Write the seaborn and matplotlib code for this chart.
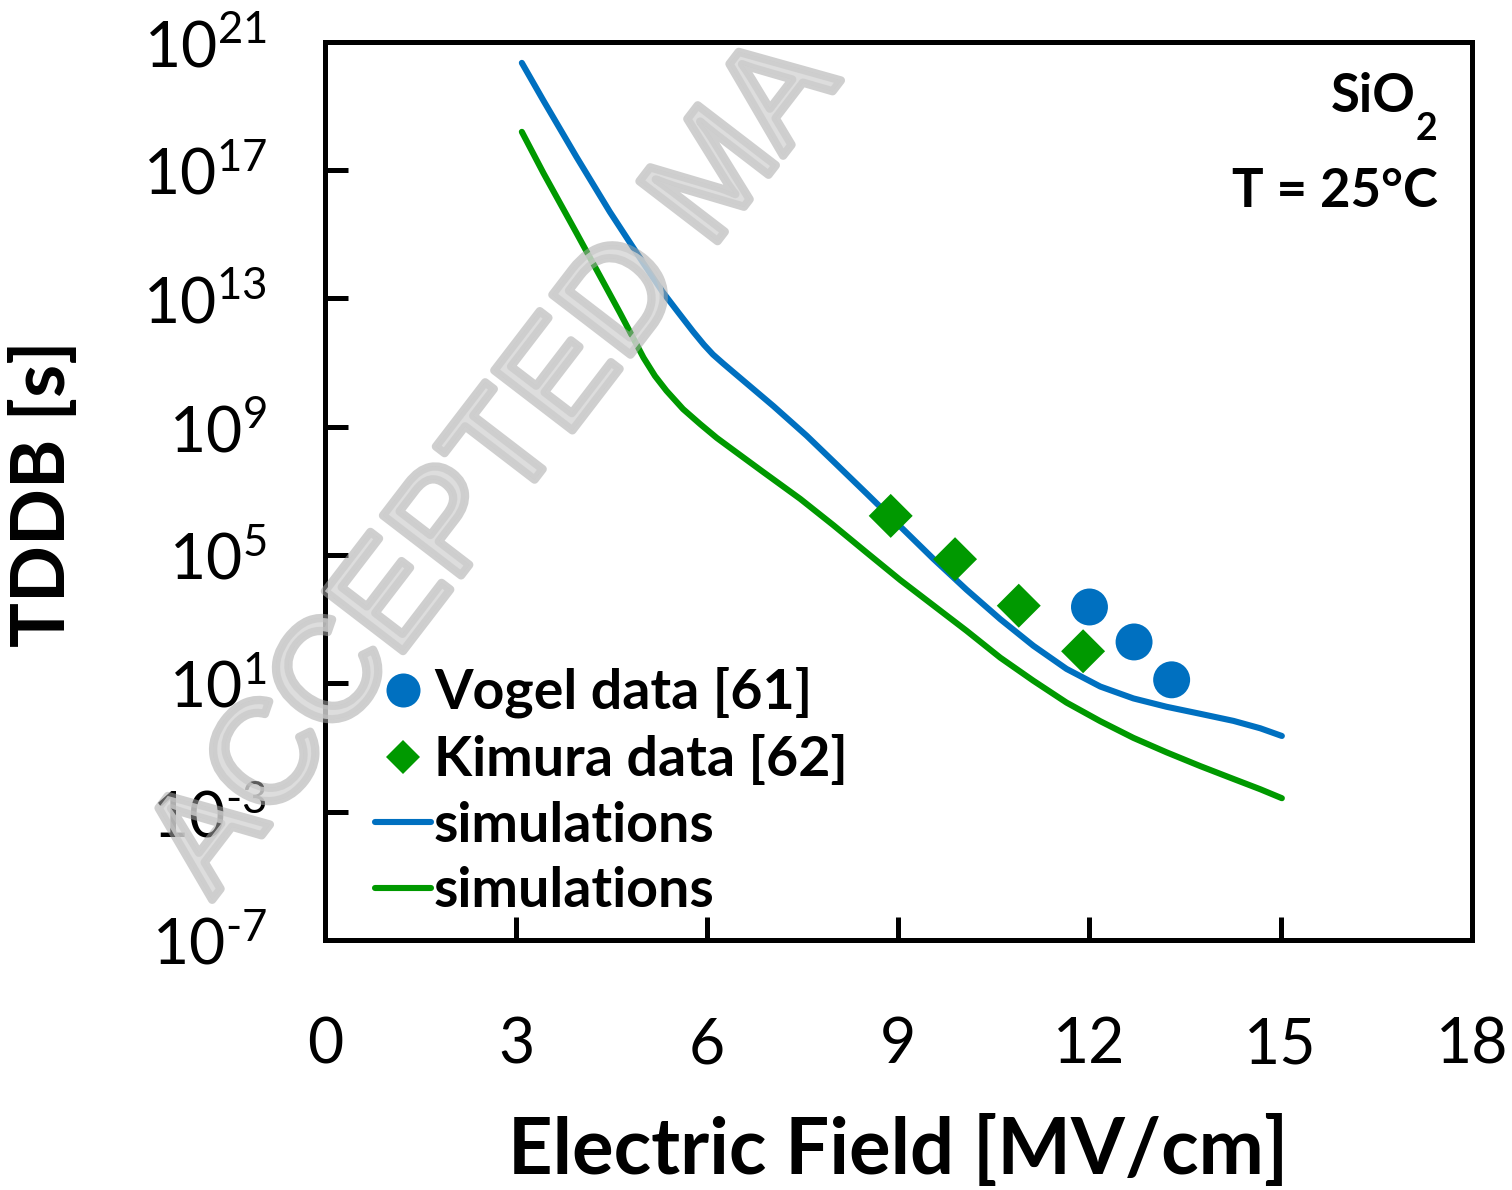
import numpy as np
import pandas as pd
import matplotlib
matplotlib.use("Agg")
import matplotlib.pyplot as plt
import matplotlib.patheffects as pe
import seaborn as sns
from matplotlib.lines import Line2D

# ---------------- data ----------------
# simulation curves: electric field [MV/cm] and log10(TDDB [s])
sim_blue_field = [3.09, 3.43, 3.95, 4.47, 4.99, 5.30, 5.55, 5.78, 5.95, 6.09, 6.25,
                  6.41, 7.04, 7.56, 8.00, 8.50, 9.03, 9.55, 10.07, 10.60, 11.12,
                  11.64, 12.17, 12.69, 13.21, 13.74, 14.26, 14.68, 15.02]
sim_blue_exp = [20.34, 19.16, 17.40, 15.70, 14.12, 13.20, 12.55, 11.96, 11.55, 11.25, 10.97,
                10.70, 9.64, 8.72, 7.88, 6.92, 5.89, 4.88, 3.92, 3.00, 2.17,
                1.45, 0.90, 0.53, 0.27, 0.05, -0.17, -0.40, -0.64]

sim_green_field = [3.09, 3.43, 3.95, 4.37, 4.63, 5.00, 5.18, 5.36, 5.62, 5.89,
                   6.15, 6.41, 6.87, 7.46, 7.98, 8.50, 9.03, 9.55, 10.07, 10.60,
                   11.12, 11.64, 12.17, 12.69, 13.21, 13.74, 14.26, 14.68, 15.02]
sim_green_exp = [18.19, 16.90, 15.03, 13.50, 12.55, 11.15, 10.58, 10.12, 9.55, 9.08,
                 8.65, 8.27, 7.60, 6.75, 5.93, 5.08, 4.22, 3.43, 2.64, 1.80,
                 1.08, 0.40, -0.18, -0.70, -1.15, -1.58, -1.98, -2.30, -2.58]

vogel_field = [12.00, 12.70, 13.29]
vogel_exp = [3.38, 2.29, 1.11]

kimura_field = [8.88, 9.89, 10.89, 11.90]
kimura_exp = [6.22, 4.87, 3.42, 2.00]

x_ticks = [0, 3, 6, 9, 12, 15, 18]
y_tick_exps = [-7, -3, 1, 5, 9, 13, 17, 21]

legend_labels = ["Vogel data [61]", "Kimura data [62]", "simulations", "simulations"]

BLUE = "#0070C0"
GREEN = "#009900"

# ---------------- style ----------------
sns.set_theme(style="white")
plt.rcParams["font.family"] = ["Lato", "DejaVu Sans"]
plt.rcParams["mathtext.fontset"] = "custom"
plt.rcParams["mathtext.rm"] = "Lato"
plt.rcParams["mathtext.bf"] = "Lato:bold"
plt.rcParams["mathtext.it"] = "Lato:italic"

df_blue = pd.DataFrame({"E": sim_blue_field, "T": np.power(10.0, sim_blue_exp)})
df_green = pd.DataFrame({"E": sim_green_field, "T": np.power(10.0, sim_green_exp)})
df_vogel = pd.DataFrame({"E": vogel_field, "T": np.power(10.0, vogel_exp)})
df_kimura = pd.DataFrame({"E": kimura_field, "T": np.power(10.0, kimura_exp)})

W, H = 1512, 1190
fig = plt.figure(figsize=(W / 100, H / 100), dpi=100)
ax = fig.add_axes([325 / W, 1 - 940 / H, (1471.7 - 325) / W, (940 - 41.7) / H])

lw = 4.4
sns.lineplot(data=df_blue, x="E", y="T", ax=ax, color=BLUE, lw=lw,
             solid_capstyle="round", solid_joinstyle="round",
             estimator=None, sort=False, zorder=3)
sns.lineplot(data=df_green, x="E", y="T", ax=ax, color=GREEN, lw=lw,
             solid_capstyle="round", solid_joinstyle="round",
             estimator=None, sort=False, zorder=3)
sns.scatterplot(data=df_kimura, x="E", y="T", ax=ax, marker="D", s=22.4 ** 2,
                color=GREEN, edgecolor="none", linewidth=0, zorder=4)
sns.scatterplot(data=df_vogel, x="E", y="T", ax=ax, marker="o", s=26.6 ** 2,
                color=BLUE, edgecolor="none", linewidth=0, zorder=4)

ax.set_yscale("log")
ax.set_xlim(0, 18)
ax.set_ylim(1e-7, 1e21)
ax.set_xticks(x_ticks)
ax.set_xticklabels([str(v) for v in x_ticks])


def exp_label(e):
    if e < 0:
        return r"$\mathregular{10^{\text{-}%d}}$" % (-e)
    return r"$\mathregular{10^{%d}}$" % e


ax.set_yticks([10.0 ** e for e in y_tick_exps])
ax.set_yticklabels([exp_label(e) for e in y_tick_exps])
ax.yaxis.set_minor_locator(matplotlib.ticker.NullLocator())
ax.xaxis.set_minor_locator(matplotlib.ticker.NullLocator())

for s in ax.spines.values():
    s.set_linewidth(3.6)
    s.set_color("black")
ax.tick_params(axis="both", which="major", direction="in", length=16.5, width=3.6,
               color="black", labelsize=45, labelcolor="black")
ax.tick_params(axis="x", pad=55, bottom=True, top=False)
ax.tick_params(axis="y", pad=42, left=True, right=False)
ax.grid(False)

ax.set_xlabel("Electric Field [MV/cm]", fontsize=56, fontweight="bold", color="black")
ax.set_ylabel("TDDB [s]", fontsize=54, fontweight="bold", color="black")
ax.xaxis.set_label_coords(0.5, -0.195)
ax.yaxis.set_label_coords((78 - 325) / 1146.7, 0.497)

# annotation (pixel coordinates of the figure)
fig.text(1416 / W, 1 - 112 / H, "SiO", fontsize=38, fontweight="bold",
         ha="right", va="baseline", color="black")
fig.text(1416 / W, 1 - 140 / H, "2", fontsize=27, fontweight="bold",
         ha="left", va="baseline", color="black")
fig.text(1438 / W, 1 - 207 / H, "T = 25°C", fontsize=38, fontweight="bold",
         ha="right", va="baseline", color="black")

# legend
handles = [
    Line2D([], [], color=BLUE, marker="o", linestyle="none", markersize=24.5, markeredgewidth=0),
    Line2D([], [], color=GREEN, marker="D", linestyle="none", markersize=17.3, markeredgewidth=0),
    Line2D([], [], color=BLUE, lw=lw, solid_capstyle="round"),
    Line2D([], [], color=GREEN, lw=lw, solid_capstyle="round"),
]
leg = ax.legend(handles, legend_labels, loc="upper left",
                bbox_to_anchor=((375 - 325) / 1146.7, (940 - 667) / 898.3),
                frameon=False, fontsize=40, handlelength=1.0, handletextpad=0.06,
                labelspacing=0.28, borderpad=0, borderaxespad=0)
for t in leg.get_texts():
    t.set_fontweight("bold")
    t.set_color("black")

# watermark (semi-transparent, drawn over the plot like in the reference)
fig.text(212 / W, 1 - 900 / H, "ACCEPTED MA", rotation=52.5,
         rotation_mode="anchor", ha="left", va="baseline", fontsize=103,
         family="Liberation Sans", color="#d6d6d6", alpha=0.6, zorder=10,
         path_effects=[pe.withStroke(linewidth=6, foreground="#a8a8a8", alpha=0.55)])

fig.savefig("out.png", dpi=100)
